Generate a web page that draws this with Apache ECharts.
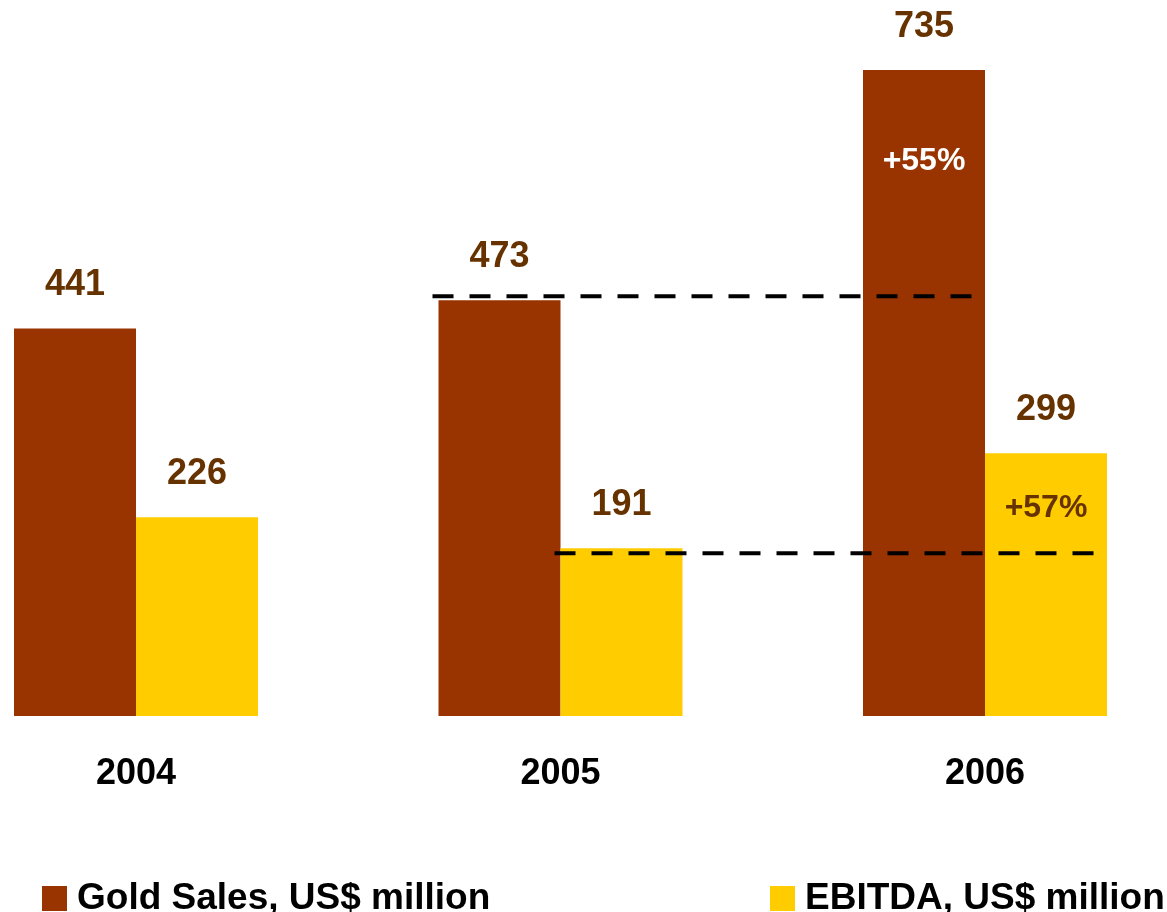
<!DOCTYPE html>
<html>
<head>
<meta charset="utf-8">
<title>Gold Sales and EBITDA</title>
<script src="https://cdn.jsdelivr.net/npm/echarts@6/dist/echarts.min.js"></script>
<style>
  html, body { margin: 0; padding: 0; background: #ffffff; }
  #chart { width: 1167px; height: 912px; }
</style>
</head>
<body>
<div id="chart"></div>
<script>
// Annual figures, US$ million
const years = ['2004', '2005', '2006'];
const goldSales = [441, 473, 735];
const ebitda = [226, 191, 299];
// Year-on-year growth 2005 -> 2006 for each series
const growthLabels = ['+55%', '+57%'];

const FONT = "'Liberation Sans', Arial, sans-serif";
const GOLD = '#993300';
const YELLOW = '#FFCC00';
const LABEL_BROWN = '#663300';
const BAR_W = 122;

// Guide lines: one per series, from the 2005 value carried across to 2006
const guideData = [
  [1, 2, goldSales[1], goldSales[2], 0],
  [1, 2, ebitda[1], ebitda[2], 1]
];
// Per-series drawing tweaks for the guides and growth labels
const guideLook = [
  { lineShift: -4, textDrop: 91, textColor: '#ffffff' },
  { lineShift: 5, textDrop: 55, textColor: LABEL_BROWN }
];

function renderGuide(params, api) {
  const s = api.value(4);
  const side = s === 0 ? -1 : 1;
  const look = guideLook[s];
  const from = api.coord([api.value(0), api.value(2)]);
  const to = api.coord([api.value(1), api.value(2)]);
  const top = api.coord([api.value(1), api.value(3)]);
  const x0 = from[0] + side * BAR_W / 2 - BAR_W / 2 - 6;
  const x1 = to[0] + side * BAR_W / 2 + BAR_W / 2 - 8;
  const y = from[1] + look.lineShift;
  return {
    type: 'group',
    children: [
      {
        type: 'line',
        shape: { x1: x0, y1: y, x2: x1, y2: y },
        style: { stroke: '#000000', lineWidth: 4, lineDash: [21, 16] },
        z2: 10
      },
      {
        type: 'text',
        x: top[0] + side * BAR_W / 2,
        y: top[1] + look.textDrop,
        style: {
          text: growthLabels[params.dataIndex],
          fill: look.textColor,
          font: 'bold 32px ' + FONT,
          align: 'center',
          verticalAlign: 'middle'
        },
        z2: 11
      }
    ]
  };
}

const chart = echarts.init(document.getElementById('chart'), null, { renderer: 'canvas' });

const valueLabel = {
  show: true,
  position: 'top',
  distance: 25,
  color: LABEL_BROWN,
  fontSize: 36,
  fontWeight: 'bold',
  fontFamily: FONT
};

const legendText = {
  color: '#000000',
  fontSize: 37,
  fontWeight: 'bold',
  fontFamily: FONT,
  padding: [0, 0, 0, 5]
};

chart.setOption({
  animation: false,
  backgroundColor: '#ffffff',
  // categories sit on the grid edges (boundaryGap false), so the outer bars overhang
  grid: { left: 136, right: 182, top: 12.9, bottom: 196, containLabel: false },
  legend: [
    {
      left: 37, top: 875,
      icon: 'rect', itemWidth: 25, itemHeight: 25,
      data: ['Gold Sales, US$ million'],
      textStyle: legendText,
      selectedMode: false
    },
    {
      left: 765, top: 875,
      icon: 'rect', itemWidth: 25, itemHeight: 25,
      data: ['EBITDA, US$ million'],
      textStyle: legendText,
      selectedMode: false
    }
  ],
  xAxis: {
    type: 'category',
    data: years,
    boundaryGap: false,
    axisLine: { show: false },
    axisTick: { show: false },
    splitLine: { show: false },
    axisLabel: {
      color: '#000000',
      fontSize: 36,
      fontWeight: 'bold',
      fontFamily: FONT,
      margin: 40
    }
  },
  yAxis: {
    type: 'value',
    min: 0,
    max: 800,
    show: false,
    splitLine: { show: false }
  },
  series: [
    {
      name: 'Gold Sales, US$ million',
      type: 'bar',
      data: goldSales,
      barWidth: BAR_W,
      barGap: '0%',
      clip: false,
      itemStyle: { color: GOLD },
      label: valueLabel
    },
    {
      name: 'EBITDA, US$ million',
      type: 'bar',
      data: ebitda,
      barWidth: BAR_W,
      barGap: '0%',
      clip: false,
      itemStyle: { color: YELLOW },
      label: valueLabel
    },
    {
      name: 'guides',
      type: 'custom',
      renderItem: renderGuide,
      data: guideData,
      encode: { x: 0, y: 2 },
      clip: false,
      z: 5,
      silent: true
    }
  ]
});
</script>
</body>
</html>
